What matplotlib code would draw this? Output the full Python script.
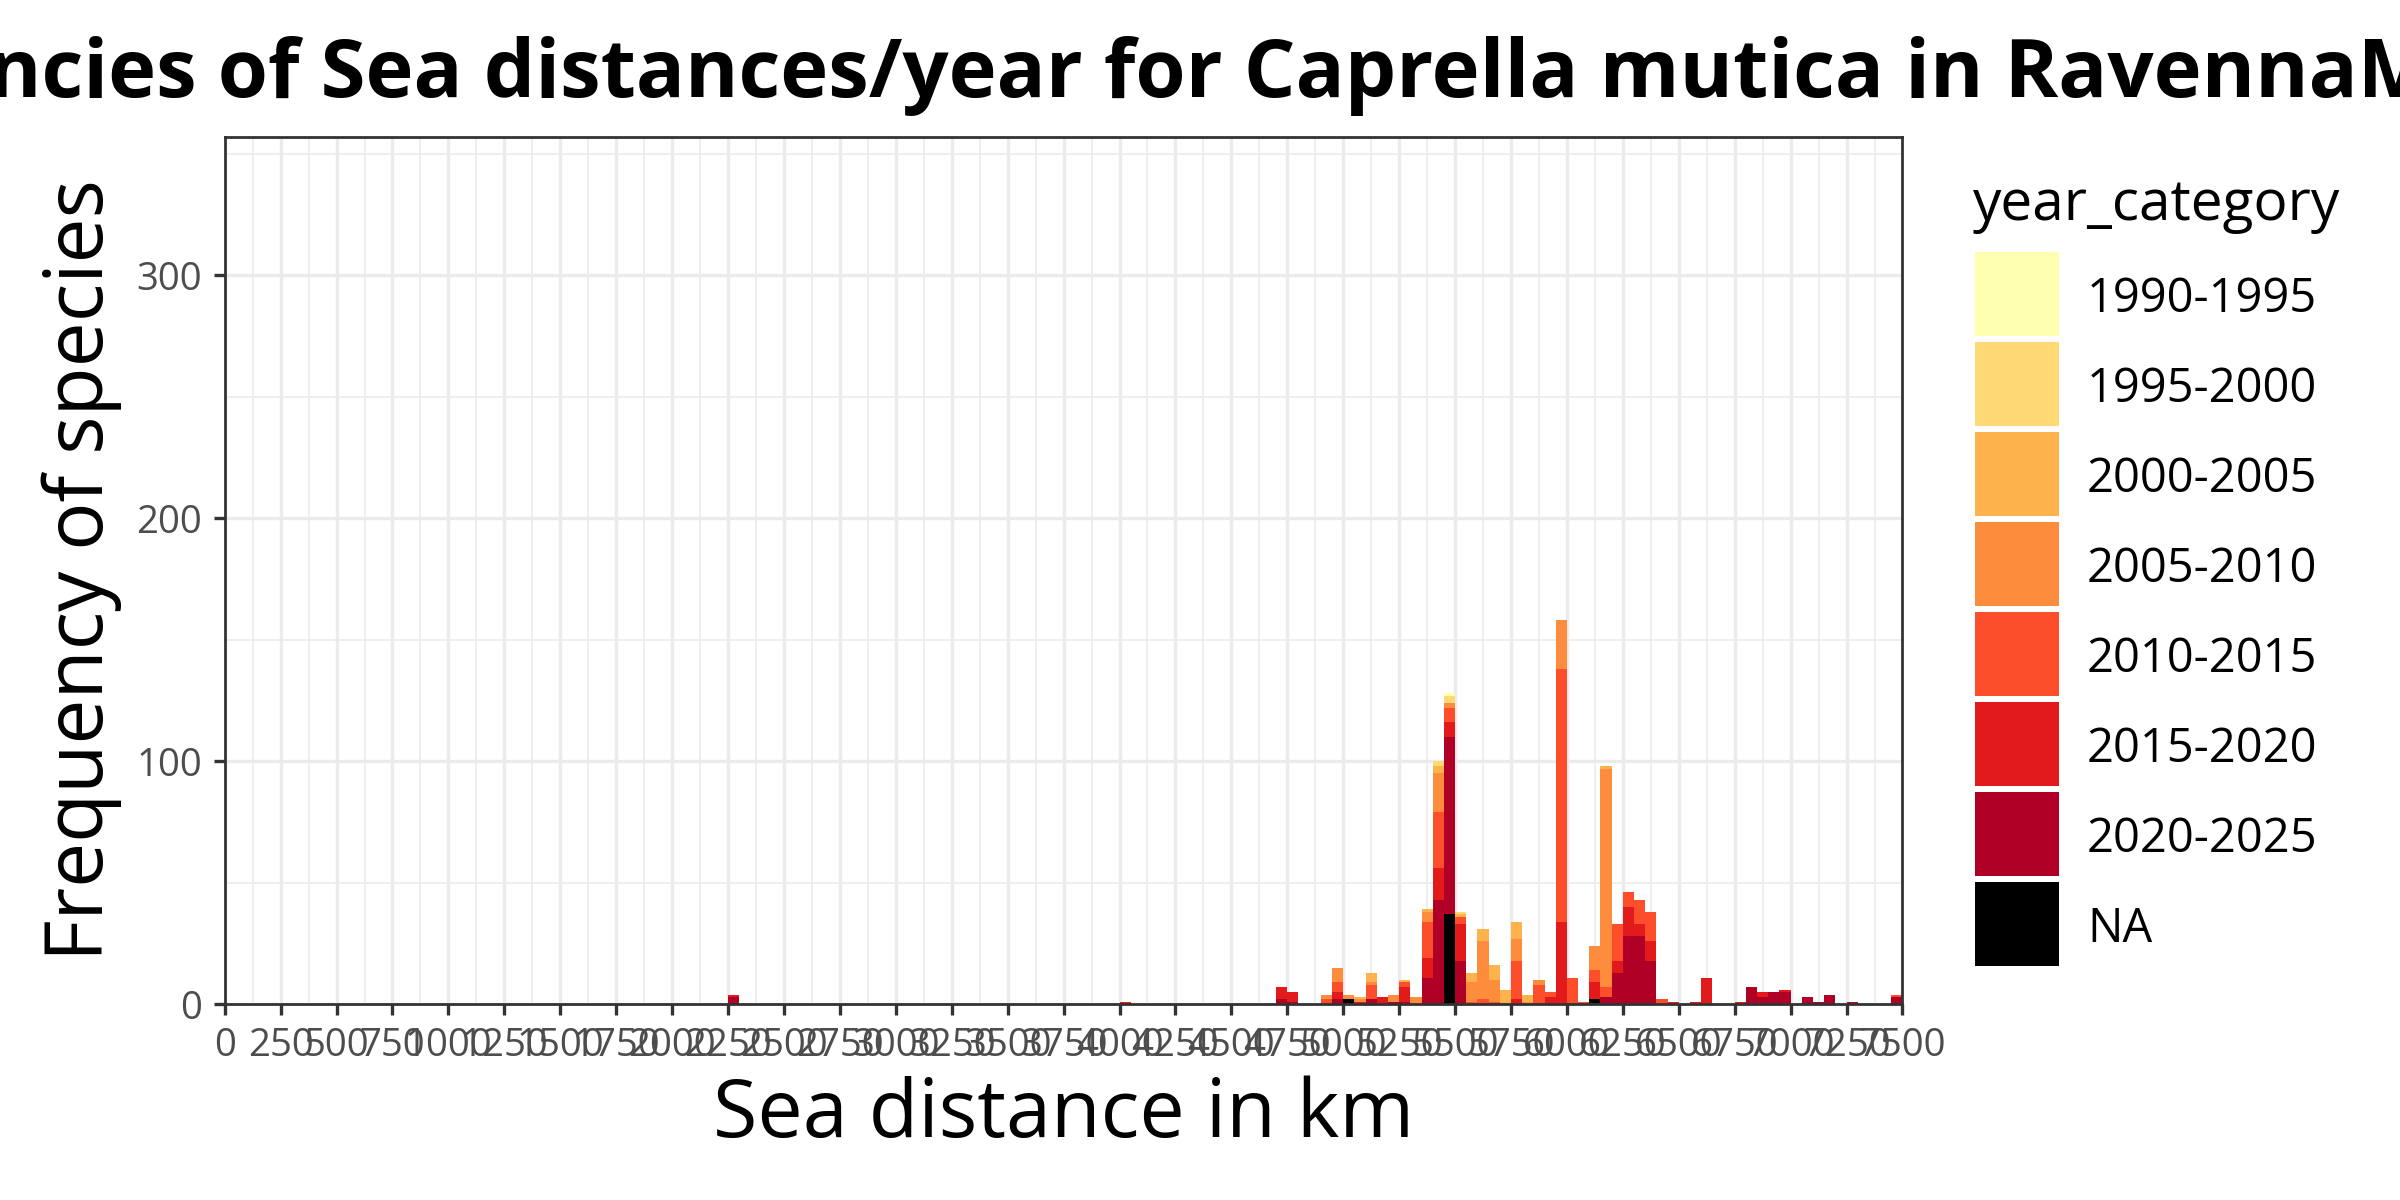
import matplotlib.pyplot as plt
import numpy as np
from matplotlib.ticker import MultipleLocator

plt.rcParams['font.family'] = ['Open Sans', 'DejaVu Sans']

# ---- data -------------------------------------------------------------
binwidth = 50
x_breaks = list(range(0, 7501, 250))
y_breaks = [0, 100, 200, 300]

categories = ['1990-1995', '1995-2000', '2000-2005', '2005-2010',
              '2010-2015', '2015-2020', '2020-2025', 'NA']
colors = ['#FFFFB2', '#FED976', '#FEB24C', '#FD8D3C',
          '#FC4E2A', '#E31A1C', '#B10026', '#000000']

# counts per 50 km bin, key = left edge of the bin (km)
counts_na = {5000: 2, 5450: 37, 6100: 2}
counts_2020_2025 = {2250: 3, 4700: 2, 4750: 1, 4950: 2, 5100: 2, 5200: 1, 5250: 1,
                    5350: 11, 5400: 43, 5450: 73, 5500: 18, 6150: 3, 6200: 13,
                    6250: 28, 6300: 28, 6350: 18, 6800: 7, 6850: 3, 6900: 5,
                    6950: 5, 7050: 3, 7100: 1, 7150: 4, 7250: 1, 7450: 3}
counts_2015_2020 = {2250: 1, 4000: 1, 4700: 5, 4750: 4, 4950: 3, 5050: 1, 5150: 3,
                    5250: 6, 5350: 8, 5400: 13, 5450: 6, 5500: 15, 5750: 2,
                    5900: 3, 5950: 34, 6100: 7, 6200: 5, 6250: 12, 6300: 5,
                    6350: 8, 6450: 1, 6550: 1, 6600: 11, 6750: 1, 6850: 2, 6950: 1}
counts_2010_2015 = {4900: 2, 4950: 4, 5100: 6, 5250: 2, 5350: 15, 5400: 23, 5450: 6,
                    5500: 3, 5550: 1, 5600: 2, 5650: 1, 5750: 16, 5850: 8, 5900: 2,
                    5950: 104, 6000: 11, 6050: 1, 6100: 5, 6150: 4, 6200: 15,
                    6250: 6, 6300: 10, 6350: 12, 6400: 2, 7450: 1}
counts_2005_2010 = {4900: 2, 4950: 6, 5000: 2, 5050: 1, 5100: 1, 5200: 3, 5300: 3,
                    5350: 4, 5400: 16, 5450: 2, 5550: 8, 5600: 24, 5650: 9,
                    5750: 9, 5800: 1, 5850: 2, 5950: 20, 6100: 10, 6150: 90}
counts_2000_2005 = {5050: 1, 5100: 4, 5250: 1, 5350: 1, 5400: 3, 5500: 1, 5550: 4,
                    5600: 5, 5650: 6, 5700: 6, 5750: 7, 5800: 3, 6150: 1}
counts_1995_2000 = {5400: 2, 5450: 3, 5500: 1}
counts_1990_1995 = {5450: 1}

# stacking order, bottom to top
stack_counts = [counts_na, counts_2020_2025, counts_2015_2020, counts_2010_2015,
                counts_2005_2010, counts_2000_2005, counts_1995_2000, counts_1990_1995]
stack_colors = colors[::-1]

title = "Frequencies of Sea distances/year for Caprella mutica in RavennaMarina"
visible_title = "ncies of Sea distances/year for Caprella mutica in RavennaM"

# ---- figure ------------------------------------------------------------
W, H = 2400, 1200
PT = 72 / 200  # px -> pt
fig = plt.figure(figsize=(12, 6), dpi=200)
renderer = fig.canvas.get_renderer()


def text_width(text, size, **kw):
    probe = fig.text(0, 0, text, fontsize=size, **kw)
    w = probe.get_window_extent(renderer).width
    probe.remove()
    return w


def fit_size(text, target_px, **kw):
    size = 20.0
    for _ in range(3):
        size *= target_px / text_width(text, size, **kw)
    return size


pl, pr, pt_, pb = 224.7, 1902.5, 136.5, 1004.3
ax = fig.add_axes([pl / W, 1 - pb / H, (pr - pl) / W, (pb - pt_) / H])

bin_left = np.arange(0, 7500, binwidth)
bottom = np.zeros(len(bin_left))
for d, c in zip(stack_counts, stack_colors):
    vals = np.zeros(len(bin_left))
    for k, v in d.items():
        vals[k // binwidth] = v
    ax.bar(bin_left, vals, width=binwidth, bottom=bottom, align='edge',
           color=c, linewidth=0)
    bottom += vals

ax.set_xlim(0, 7500)
ax.set_ylim(0, 357)
ax.set_xticks(x_breaks)
ax.set_xticklabels([str(b) for b in x_breaks])
ax.set_yticks(y_breaks)
ax.xaxis.set_minor_locator(MultipleLocator(125))
ax.yaxis.set_minor_locator(MultipleLocator(50))
ax.set_axisbelow(True)
ax.grid(which='major', color='#EBEBEB', linewidth=1.2)
ax.grid(which='minor', color='#EBEBEB', linewidth=0.6)
ax.tick_params(which='major', length=11 * PT, width=1.2, color='#333333',
               labelcolor='#4D4D4D', labelsize=13.8, pad=4.2)
ax.tick_params(which='minor', length=0)
for s in ax.spines.values():
    s.set_color('#333333')
    s.set_linewidth(1.0)

# axis titles
ax.set_xlabel('Sea distance in km', fontsize=fit_size('Sea distance in km', 701),
              va='baseline')
ax.xaxis.set_label_coords(0.5, ((H - 1137) - (H - pb)) / (pb - pt_))
ax.set_ylabel('Frequency of species', fontsize=fit_size('Frequency of species', 781),
              va='center', ha='center', rotation_mode='default')
ax.yaxis.set_label_coords((82 - pl) / (pr - pl), 0.5)

# title, wider than the figure so it runs off both edges like the original
tsize = fit_size(visible_title, 2396, fontweight='bold') * 1.021
offset = (text_width(title, tsize, fontweight='bold')
          - text_width(title[len('Freque'):], tsize, fontweight='bold'))
fig.text((-12 - offset) / W, 1 - 97 / H, title, fontsize=tsize, fontweight='bold',
         ha='left', va='baseline')

# legend
lax = fig.add_axes([1975 / W, 1 - 968.5 / H, 84 / W, 720 / H])
lax.set_xlim(0, 1)
lax.set_ylim(7.5, -0.5)
lax.axis('off')
rows = np.arange(len(categories))
lax.barh(rows, 1, height=84 / 90, left=0, color=colors, linewidth=0)
lab_size = fit_size('1990-1995', 230)
for i, lab in zip(rows, categories):
    lax.text(112 / 84, i + 18.8 / 90, lab, fontsize=lab_size, ha='left',
             va='baseline', clip_on=False)
lax.text(-2 / 84, -0.5 - (248.5 - 220) / 90, 'year_category',
         fontsize=fit_size('year_category', 367), ha='left', va='baseline',
         clip_on=False)

fig.savefig('out.png', dpi=200)
